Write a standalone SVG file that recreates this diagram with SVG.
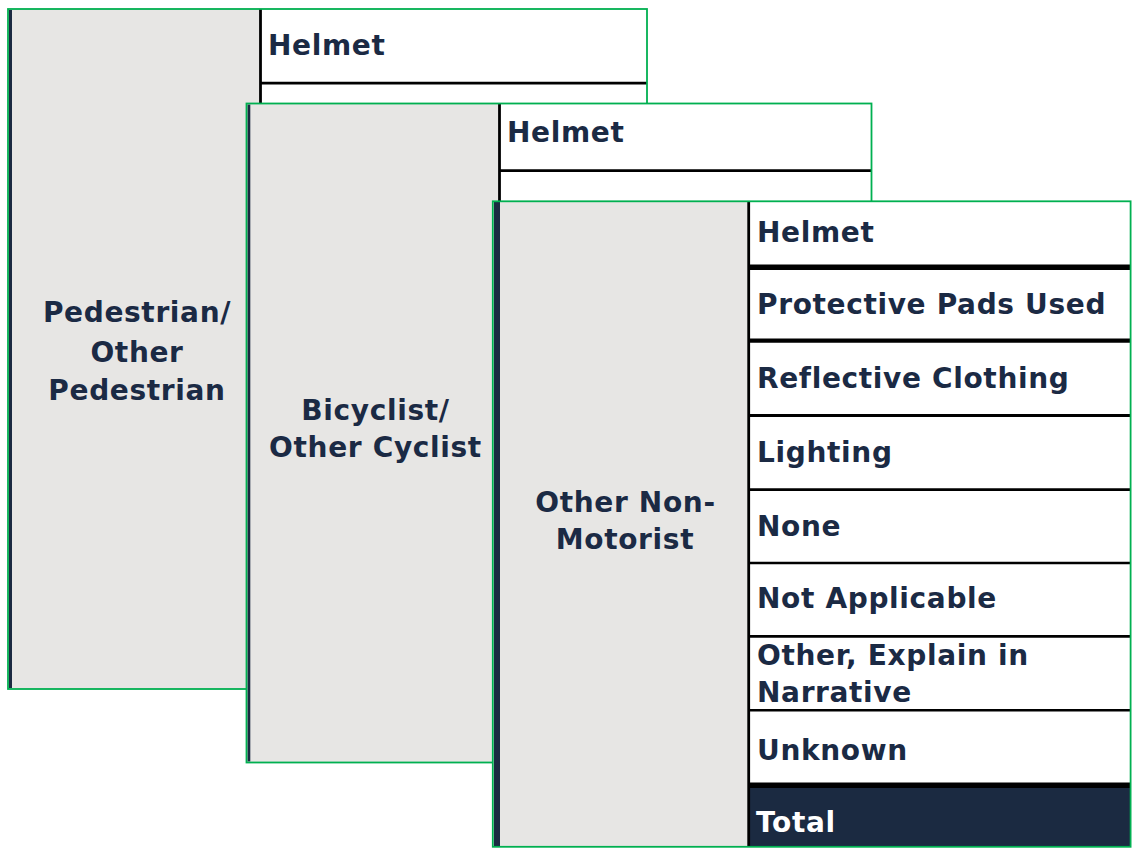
<svg xmlns="http://www.w3.org/2000/svg" width="1132" height="851" viewBox="0 0 1132 851">
<style>
.bg{fill:#ffffff}
.col{fill:#e7e6e4}
.frame{fill:none;stroke:#00b050;stroke-width:1.8}
.bar{fill:#1b2a41}
.div{stroke:#000000;stroke-width:2.8}
.t{font-family:"DejaVu Sans",Verdana,sans-serif;font-weight:bold;font-size:28px;fill:#1b2a44;letter-spacing:0.65px}
.c{text-anchor:middle}
.w{fill:#ffffff}
</style>
<rect x="0" y="0" width="1132" height="851" fill="#ffffff"/>
<g id="card-pedestrian">
<rect class="bg" x="8" y="9" width="639" height="680"/>
<rect class="col" x="8" y="9" width="252" height="680"/>
<rect class="bar" x="9" y="10" width="3" height="678"/>
<line class="div" x1="260.5" y1="9" x2="260.5" y2="689"/>
<line class="div" x1="260" y1="83.2" x2="647" y2="83.2"/>
<rect class="frame" x="8" y="9" width="639" height="680"/>
<text class="t" x="268" y="54.5">Helmet</text>
<text class="t c" x="137" y="321.5">Pedestrian/</text>
<text class="t c" x="137" y="361.5">Other</text>
<text class="t c" x="137" y="400">Pedestrian</text>
</g>
<g id="card-bicyclist">
<rect class="bg" x="246.5" y="103.5" width="625" height="659"/>
<rect class="col" x="246.5" y="103.5" width="252.5" height="659"/>
<rect class="bar" x="247.5" y="104.5" width="2.8" height="657"/>
<line class="div" x1="499.5" y1="103.5" x2="499.5" y2="762.5"/>
<line class="div" x1="499" y1="170.6" x2="871.5" y2="170.6"/>
<rect class="frame" x="246.5" y="103.5" width="625" height="659"/>
<text class="t" x="507" y="141.8">Helmet</text>
<text class="t c" x="375.5" y="420">Bicyclist/</text>
<text class="t c" x="375.5" y="457">Other Cyclist</text>
</g>
<g id="card-other-non-motorist">
<rect class="bg" x="492.8" y="201.3" width="637.8" height="645.5"/>
<rect class="col" x="492.8" y="201.3" width="255.7" height="645.5"/>
<rect class="bar" x="494" y="202" width="6" height="644"/>
<rect x="748.5" y="786" width="382" height="60.5" fill="#1b2a41"/>
<line class="div" x1="748.7" y1="201.3" x2="748.7" y2="846.8"/>
<g stroke="#000000">
<line x1="748.5" y1="267.2" x2="1130.6" y2="267.2" stroke-width="5.5"/>
<line x1="748.5" y1="340.6" x2="1130.6" y2="340.6" stroke-width="4.2"/>
<line x1="748.5" y1="415.6" x2="1130.6" y2="415.6" stroke-width="3"/>
<line x1="748.5" y1="489.6" x2="1130.6" y2="489.6" stroke-width="2.8"/>
<line x1="748.5" y1="563" x2="1130.6" y2="563" stroke-width="2.6"/>
<line x1="748.5" y1="636.4" x2="1130.6" y2="636.4" stroke-width="2.8"/>
<line x1="748.5" y1="710.3" x2="1130.6" y2="710.3" stroke-width="2.6"/>
<line x1="748.5" y1="785.2" x2="1130.6" y2="785.2" stroke-width="5.5"/>
</g>
<rect class="frame" x="492.8" y="201.3" width="637.8" height="645.5"/>
<text class="t" x="757" y="242.3">Helmet</text>
<text class="t" x="757" y="314.3">Protective Pads Used</text>
<text class="t" x="757" y="388.3">Reflective Clothing</text>
<text class="t" x="757" y="462">Lighting</text>
<text class="t" x="757" y="535.7">None</text>
<text class="t" x="757" y="608">Not Applicable</text>
<text class="t" x="757" y="665">Other, Explain in</text>
<text class="t" x="757" y="701.7">Narrative</text>
<text class="t" x="757" y="759.7">Unknown</text>
<text class="t w" x="756" y="831.5">Total</text>
<text class="t c" x="625.5" y="512">Other Non-</text>
<text class="t c" x="625" y="549">Motorist</text>
</g>
<g id="connectors"></g>
</svg>
